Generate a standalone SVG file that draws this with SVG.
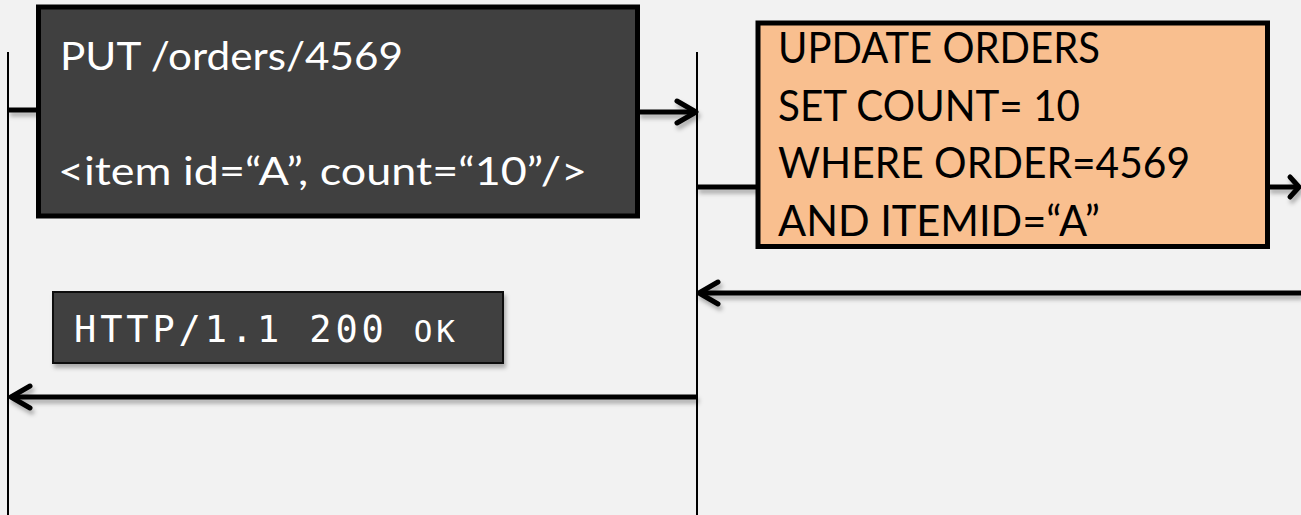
<svg xmlns="http://www.w3.org/2000/svg" width="1301" height="515" viewBox="0 0 1301 515">
  <style>
    .life { stroke: #000; stroke-width: 2; fill: none; }
    .conn { stroke: #000; stroke-width: 5; fill: none; }
    .head { stroke: #000; stroke-width: 5; fill: none; stroke-linecap: round; stroke-linejoin: round; }
    .dark { fill: #404040; stroke: #000; stroke-width: 5; }
    .orange { fill: #F9BF8F; stroke: #000; stroke-width: 5; }
    .http { fill: #404040; stroke: #111; stroke-width: 2; }
    .wt { font-family: Lato, "Noto Sans", sans-serif; font-size: 39px; fill: #fff; }
    .bt { font-family: Lato, "Noto Sans", sans-serif; font-size: 42px; fill: #000; }
    .mono { font-family: "DejaVu Sans Mono", "Liberation Mono", monospace; font-size: 37px; fill: #fff; }
  </style>
  <defs>
    <filter id="sh" x="-5%" y="-50%" width="110%" height="250%">
      <feDropShadow dx="2" dy="4" stdDeviation="2" flood-color="#000" flood-opacity="0.3"/>
    </filter>
  </defs>
  <rect width="1301" height="515" fill="#F2F2F2"/>

  <g id="lifelines">
    <line class="life" x1="8" y1="52" x2="8" y2="515"/>
    <line class="life" x1="697" y1="52" x2="697" y2="515"/>
  </g>

  <g id="connectors">
    <g filter="url(#sh)">
      <line class="conn" x1="8" y1="110" x2="38" y2="110"/>
      <line class="conn" x1="638" y1="112" x2="695" y2="112"/>
      <polyline class="head" points="677,101 696,112 677,123"/>
      <line class="conn" x1="697" y1="187" x2="758" y2="187"/>
      <line class="conn" x1="1268" y1="187" x2="1299" y2="187"/>
      <polyline class="head" points="1290,177 1299,187 1290,197"/>
      <line class="conn" x1="699" y1="293" x2="1301" y2="293"/>
      <polyline class="head" points="718,282 699,293 718,304"/>
      <line class="conn" x1="11" y1="397" x2="697" y2="397"/>
      <polyline class="head" points="30,386 11,397 30,408"/>
    </g>
  </g>

  <g id="put-request">
    <rect class="dark" x="38.5" y="7" width="599" height="209"/>
    <text class="wt" x="60" y="70" textLength="343" lengthAdjust="spacingAndGlyphs">PUT /orders/4569</text>
    <text class="wt" x="58" y="185" textLength="529" lengthAdjust="spacingAndGlyphs">&lt;item id=“A”, count=“10”/&gt;</text>
  </g>

  <g id="sql-update">
    <rect class="orange" x="758" y="23" width="509.5" height="223.5"/>
    <text class="bt" x="778" y="63" textLength="322" lengthAdjust="spacingAndGlyphs">UPDATE ORDERS</text>
    <text class="bt" x="778" y="121" textLength="302" lengthAdjust="spacingAndGlyphs">SET COUNT= 10</text>
    <text class="bt" x="778" y="178" textLength="412" lengthAdjust="spacingAndGlyphs">WHERE ORDER=4569</text>
    <text class="bt" x="778" y="236" textLength="322" lengthAdjust="spacingAndGlyphs">AND ITEMID=“A”</text>
  </g>

  <g id="http-response">
    <rect class="http" x="53" y="292" width="450" height="71" filter="url(#sh)"/>
    <text class="mono" x="74" y="342" textLength="381" lengthAdjust="spacing">HTTP/1.1 200 <tspan font-size="31">OK</tspan></text>
  </g>
</svg>
